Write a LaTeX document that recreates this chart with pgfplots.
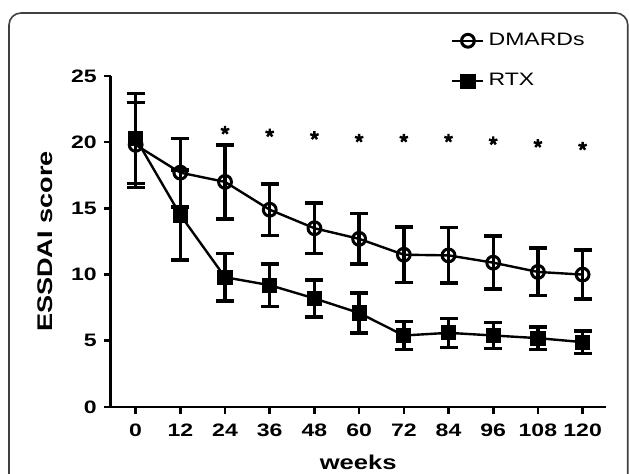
\documentclass[border=0pt]{standalone}
\usepackage{fontspec}
\setmainfont{Liberation Sans}
\newfontfamily\widesans[FakeStretch=1.28]{Liberation Sans}
\usepackage{pgfplots}
\pgfplotsset{compat=1.18}

\begin{document}
\begin{tikzpicture}
\useasboundingbox (0,0) rectangle (314.5pt,237pt);
% outer rounded frame (runs off the right and bottom edge)
\draw[rounded corners=6pt, line width=0.8pt, black!75] (4.5pt,-20pt) rectangle (313.9pt,230.5pt);
\begin{axis}[
    at={(55.35pt,33.5pt)}, anchor=south west,
    scale only axis, width=247.5pt, height=165.5pt,
    xmin=-6.7, xmax=126.2, ymin=0, ymax=25,
    axis x line=bottom, axis y line=left,
    axis line style={-, line width=1.3pt},
    xtick={0,12,...,120}, ytick={0,5,...,25},
    tick align=outside, major tick length=3.5pt,
    tick style={line width=1.3pt, black},
    /pgf/number format/assume math mode=true,
    ticklabel style={font=\widesans\bfseries\fontsize{9}{11}\selectfont},
    xticklabel style={yshift=-1.5pt},
    xlabel={weeks}, ylabel={ESSDAI score},
    xlabel style={font=\widesans\bfseries\fontsize{10}{12}\selectfont,
        at={(axis description cs:0.5,0)}, anchor=center, yshift=-27.5pt},
    ylabel style={font=\widesans\bfseries\fontsize{10.6}{12}\selectfont,
        at={(axis description cs:-0.1325,0.5)}, anchor=center},
    legend style={draw=none, fill=none, at={(0.675,1.155)}, anchor=north west,
        font=\widesans\fontsize{9}{11}\selectfont, row sep=8.5pt},
    legend cell align=left,
    legend image code/.code={\draw[mark repeat=2,mark phase=2] plot coordinates {(0pt,0pt)(7.75pt,0pt)(15.5pt,0pt)};},
    clip=false,
    every axis plot/.append style={line width=1.2pt, black},
]

\addplot[mark=o, mark size=3.2pt, mark options={line width=1.5pt},
    error bars/.cd, y dir=both, y explicit,
    error bar style={line width=1.7pt},
    error mark options={rotate=90, mark size=4.5pt, line width=1.7pt}]
coordinates {
    (0,19.8) +- (0,3.2)
    (12,17.7) +- (0,2.6)
    (24,17.0) +- (0,2.8)
    (36,14.9) +- (0,1.95)
    (48,13.5) +- (0,1.9)
    (60,12.7) +- (0,1.9)
    (72,11.5) +- (0,2.1)
    (84,11.45) +- (0,2.1)
    (96,10.9) +- (0,2.0)
    (108,10.2) +- (0,1.8)
    (120,10.0) +- (0,1.85)
};
\addlegendentry{DMARDs}

\addplot[mark=square*, mark size=3.2pt,
    error bars/.cd, y dir=both, y explicit,
    error bar style={line width=1.7pt},
    error mark options={rotate=90, mark size=4.5pt, line width=1.7pt}]
coordinates {
    (0,20.3) +- (0,3.4)
    (12,14.5) +- (0,3.4)
    (24,9.8) +- (0,1.8)
    (36,9.2) +- (0,1.6)
    (48,8.2) +- (0,1.4)
    (60,7.1) +- (0,1.5)
    (72,5.4) +- (0,1.05)
    (84,5.6) +- (0,1.1)
    (96,5.4) +- (0,1.0)
    (108,5.2) +- (0,0.85)
    (120,4.9) +- (0,0.85)
};
\addlegendentry{RTX}

% significance asterisks
\addplot[only marks, mark=star, mark size=2.2pt, mark options={line width=1.2pt}, forget plot]
coordinates {
    (24,20.9) (36,20.7) (48,20.5) (60,20.3) (72,20.3)
    (84,20.3) (96,20.1) (108,19.9) (120,19.7)
};

\end{axis}
\end{tikzpicture}
\end{document}
